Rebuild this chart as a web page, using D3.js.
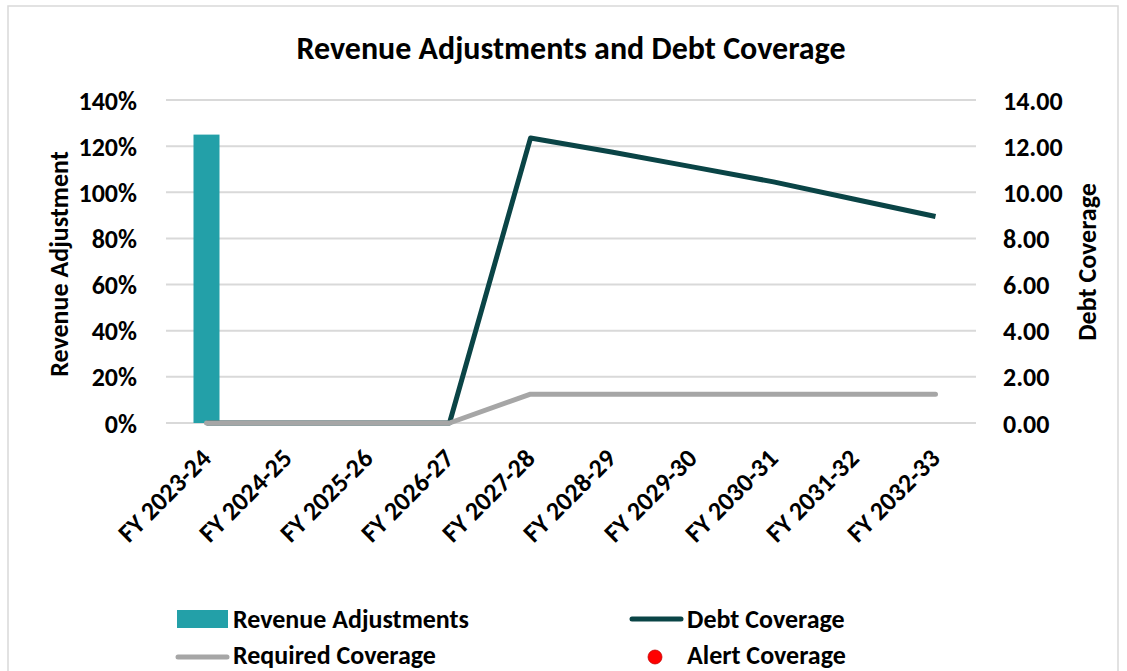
<!DOCTYPE html>
<meta charset="utf-8">
<html>
  <head>
    <style>
     body { margin: 0; background: #fff; }
     text { font-family: Carlito, Lato, "Open Sans", sans-serif; font-weight: bold; fill: #000; }
     .grid line { stroke: #d9d9d9; stroke-width: 2px; }
     .axis text { font-size: 26px; }
    </style>
    <script src="https://cdn.jsdelivr.net/npm/d3@7"></script>
  </head>
  <body>
    <div id="chart"></div>
    <script type="text/javascript">
     // data
     var years = ["FY 2023-24", "FY 2024-25", "FY 2025-26", "FY 2026-27", "FY 2027-28",
                  "FY 2028-29", "FY 2029-30", "FY 2030-31", "FY 2031-32", "FY 2032-33"];
     var revenueAdj = [1.25, 0, 0, 0, 0, 0, 0, 0, 0, 0];
     var debtCoverage = [0, 0, 0, 0, 12.35, 11.75, 11.1, 10.45, 9.7, 8.95];
     var requiredCoverage = [0, 0, 0, 0, 1.25, 1.25, 1.25, 1.25, 1.25, 1.25];
     var alertCoverage = [null, null, null, null, null, null, null, null, null, null];
     var leftTicks = [0, 0.2, 0.4, 0.6, 0.8, 1.0, 1.2, 1.4];
     var rightTicks = [0, 2, 4, 6, 8, 10, 12, 14];

     var W = 1127, H = 671,
         plot = { left: 166, right: 976, top: 100, bottom: 423 };

     var svg = d3.select("#chart").append("svg")
                 .attr("width", W)
                 .attr("height", H);

     // outer chart border
     svg.append("rect")
        .attr("x", 8).attr("y", 6)
        .attr("width", 1110).attr("height", 680)
        .attr("fill", "#fff")
        .attr("stroke", "#d9d9d9")
        .attr("stroke-width", 1.5);

     var x = d3.scaleBand().domain(years).range([plot.left, plot.right]);
     var yL = d3.scaleLinear().domain([0, 1.4]).range([plot.bottom, plot.top]);
     var yR = d3.scaleLinear().domain([0, 14]).range([plot.bottom, plot.top]);
     var cx = function(d, i) { return x(years[i]) + x.bandwidth() / 2; };

     // gridlines
     svg.append("g").attr("class", "grid")
        .selectAll("line").data(leftTicks).enter().append("line")
        .attr("x1", plot.left).attr("x2", plot.right)
        .attr("y1", function(d) { return yL(d); })
        .attr("y2", function(d) { return yL(d); });

     // left axis
     var leftAxis = svg.append("g").attr("class", "axis")
        .attr("transform", "translate(" + (plot.left - 26) + ",0)")
        .call(d3.axisLeft(yL).tickValues(leftTicks).tickSize(0)
              .tickFormat(function(d) { return Math.round(d * 100) + "%"; }));
     leftAxis.select(".domain").remove();
     leftAxis.selectAll("text").attr("dy", "0.35em");

     // right axis
     var rightAxis = svg.append("g").attr("class", "axis")
        .attr("transform", "translate(" + (plot.right + 24) + ",0)")
        .call(d3.axisRight(yR).tickValues(rightTicks).tickSize(0)
              .tickFormat(d3.format(".2f")));
     rightAxis.select(".domain").remove();
     rightAxis.selectAll("text").attr("dy", "0.35em");

     // x axis labels, rotated
     svg.append("g").selectAll("text").data(years).enter().append("text")
        .attr("class", "xlabel")
        .style("font-size", "26px")
        .attr("text-anchor", "end")
        .attr("transform", function(d) {
          return "translate(" + (x(d) + x.bandwidth() / 2 + 6) + "," + 460 + ") rotate(-45)";
        })
        .text(function(d) { return d; });

     // bars
     var barW = 26;
     svg.append("g").selectAll("rect").data(revenueAdj).enter().append("rect")
        .attr("x", function(d, i) { return cx(d, i) - barW / 2; })
        .attr("y", function(d) { return yL(d); })
        .attr("width", barW)
        .attr("height", function(d) { return yL(0) - yL(d); })
        .attr("fill", "#23a0a8");

     // lines
     var debtLine = d3.line()
        .x(function(d, i) { return cx(d, i); })
        .y(function(d) { return yR(d); });

     svg.append("path").datum(debtCoverage)
        .attr("d", debtLine)
        .attr("fill", "none")
        .attr("stroke", "#0a4446")
        .attr("stroke-width", 5)
        .attr("stroke-linejoin", "round");

     svg.append("path").datum(requiredCoverage)
        .attr("d", debtLine)
        .attr("fill", "none")
        .attr("stroke", "#a6a6a6")
        .attr("stroke-width", 5)
        .attr("stroke-linecap", "round")
        .attr("stroke-linejoin", "round");

     svg.append("g").selectAll("circle")
        .data(alertCoverage.map(function(d, i) { return { v: d, i: i }; })
                           .filter(function(d) { return d.v != null; }))
        .enter().append("circle")
        .attr("cx", function(d) { return cx(d, d.i); })
        .attr("cy", function(d) { return yR(d.v); })
        .attr("r", 6)
        .attr("fill", "#ff0000");

     // title
     svg.append("text")
        .attr("x", 571).attr("y", 59)
        .attr("text-anchor", "middle")
        .style("font-size", "32px")
        .text("Revenue Adjustments and Debt Coverage");

     // axis titles
     svg.append("text")
        .attr("transform", "translate(68,264) rotate(-90)")
        .attr("text-anchor", "middle")
        .style("font-size", "26px")
        .text("Revenue Adjustment");

     svg.append("text")
        .attr("transform", "translate(1096,262) rotate(-90)")
        .attr("text-anchor", "middle")
        .style("font-size", "26px")
        .text("Debt Coverage");

     // legend
     var lg = svg.append("g").style("font-size", "26px");
     lg.append("rect").attr("x", 177).attr("y", 610).attr("width", 51).attr("height", 18)
       .attr("fill", "#23a0a8");
     lg.append("text").attr("x", 233).attr("y", 628).text("Revenue Adjustments");

     lg.append("line").attr("x1", 632).attr("x2", 681).attr("y1", 619).attr("y2", 619)
       .attr("stroke", "#0a4446").attr("stroke-width", 5).attr("stroke-linecap", "round");
     lg.append("text").attr("x", 687).attr("y", 628).text("Debt Coverage");

     lg.append("line").attr("x1", 178).attr("x2", 227).attr("y1", 657).attr("y2", 657)
       .attr("stroke", "#a6a6a6").attr("stroke-width", 5).attr("stroke-linecap", "round");
     lg.append("text").attr("x", 233).attr("y", 664).text("Required Coverage");

     lg.append("circle").attr("cx", 655).attr("cy", 657).attr("r", 7)
       .attr("fill", "#ff0000").attr("stroke", "#c00000").attr("stroke-width", 0.75);
     lg.append("text").attr("x", 687).attr("y", 664).text("Alert Coverage");
    </script>
  </body>
</html>
